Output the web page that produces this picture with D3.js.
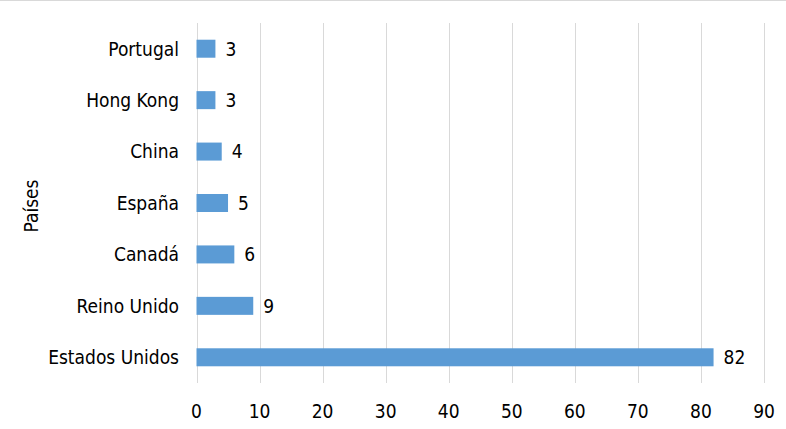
<!DOCTYPE html>
<html><head><meta charset="utf-8">
<script src="https://cdn.jsdelivr.net/npm/d3@7"></script>
<style>body{margin:0;background:#fff}</style>
</head><body><svg id="c" width="786" height="429"></svg>
<script>
const categories = ["Portugal","Hong Kong","China","España","Canadá","Reino Unido","Estados Unidos"];
const values = [3,3,4,5,6,9,82];
const ticks = [0,10,20,30,40,50,60,70,80,90];
const yTitle = "Países";

const svg = d3.select("#c");
const font = "'DejaVu Sans Condensed','DejaVu Sans',sans-serif";
svg.append("line").attr("x1",0).attr("x2",786).attr("y1",0.5).attr("y2",0.5).attr("stroke","#d9d9d9");
const x = d3.scaleLinear().domain([0,90]).range([196.5,764]);
const y = d3.scaleBand().domain(categories).range([23,383]).paddingInner(0.65).paddingOuter(0.325);

svg.append("g").selectAll("line").data(ticks).join("line")
  .attr("x1",d=>Math.round(x(d))+0.5).attr("x2",d=>Math.round(x(d))+0.5)
  .attr("y1",23).attr("y2",383).attr("stroke","#d9d9d9").attr("stroke-width",1);

svg.append("g").selectAll("rect").data(values).join("rect")
  .attr("x",x(0)).attr("y",(d,i)=>y(categories[i]))
  .attr("width",d=>x(d)-x(0)).attr("height",y.bandwidth()).attr("fill","#5b9bd5");

svg.append("g").selectAll("text").data(values).join("text")
  .attr("x",d=>x(d)+10).attr("y",(d,i)=>y(categories[i])+y.bandwidth()/2)
  .attr("dy","0.36em").attr("font-family",font).attr("font-size",19).attr("fill","#000").text(d=>d);

svg.append("g").selectAll("text").data(categories).join("text")
  .attr("x",179).attr("y",d=>y(d)+y.bandwidth()/2).attr("dy","0.36em")
  .attr("text-anchor","end").attr("font-family",font).attr("font-size",19).attr("fill","#000").text(d=>d);

svg.append("g").selectAll("text").data(ticks).join("text")
  .attr("x",d=>x(d)).attr("y",418).attr("text-anchor","middle")
  .attr("font-family",font).attr("font-size",19).attr("fill","#000").text(d=>d);

svg.append("text").attr("transform","translate(38,206) rotate(-90)").attr("text-anchor","middle")
  .attr("font-family",font).attr("font-size",19).attr("fill","#000").text(yTitle);
</script></body></html>
